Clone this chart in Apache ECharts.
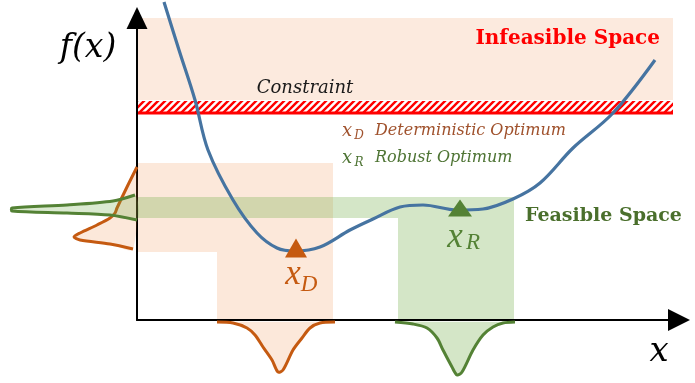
<!DOCTYPE html>
<html>
<head>
<meta charset="utf-8">
<script src="https://cdn.jsdelivr.net/npm/echarts@6/dist/echarts.min.js"></script>
<style>html,body{margin:0;padding:0;background:#fff}#chart{width:695px;height:383px}</style>
</head>
<body>
<div id="chart"></div>
<script>
// diagram units: origin at the corner of the two axes
var curveX = [27, 42, 58, 71, 96, 120, 140, 158, 183, 213, 236, 263, 286, 320, 346, 376, 403, 436, 476, 518];
var curveY = [318, 270, 220, 170, 120, 87, 72, 69, 73, 90, 101, 113, 115, 110, 111, 121, 137, 172, 207, 260];

var optimaX = [159, 323];
var optimaY = [72, 112];

// shaded regions [x0, x1, y0, y1]
var infeasibleBox = [0, 536, 220, 302];
var constraintBox = [0, 536, 207, 219];
var detBoxes = [[0, 80, 68, 157], [80, 196, 0, 157]];
var robBoxes = [[0, 261, 102, 123], [261, 377, 0, 123]];

// input / output distributions
var detXDistX = [80, 96, 110, 118, 126, 135, 141, 146, 156, 165, 173, 183, 198];
var detXDistY = [-2, -3, -8, -15, -27, -40, -52, -50, -30, -18, -8, -3, -2];
var robXDistX = [258, 276, 290, 300, 306, 315, 320, 325, 336, 346, 356, 366, 378];
var robXDistY = [-2, -4, -8, -18, -30, -47, -55, -52, -30, -15, -7, -3, -2];
var detYDistX = [0, -10, -20, -22, -27, -40, -57, -63, -57, -27, -4];
var detYDistY = [153, 133, 112, 107, 102, 95, 87, 83, 80, 76, 71];
var robYDistX = [-2, -24, -70, -125, -125, -70, -27, 0];
var robYDistY = [125, 119, 115, 112, 109, 107, 105, 100];

// text pieces
var noteText = ['f(x)', 'x', 'Constraint', 'Infeasible Space', 'x', 'D', 'Deterministic Optimum',
  'x', 'R', 'Robust Optimum', 'x', 'D', 'x', 'R', 'Feasible Space'];
var noteX = [-49, 522, 168, 523, 210, 222, 238, 210, 222, 238, 156, 172, 318, 336, 388];
var noteY = [272, -32, 232, 281, 189, 184, 189, 162, 157, 162, 45, 35, 82, 77, 104];

var serif = '"DejaVu Serif", serif';
var mathSerif = '"Liberation Serif", serif';
var orange = '#c55a11';
var green = '#548235';
var noteStyle = [
  { font: 'italic 33px ' + serif, fill: '#000', align: 'center' },
  { font: 'italic 34px ' + serif, fill: '#000', align: 'center' },
  { font: 'italic 18px ' + serif, fill: '#1a1a1a', align: 'center' },
  { font: 'bold 20px ' + serif, fill: '#ff0000', align: 'right' },
  { font: 'italic 18px ' + serif, fill: '#a0522d', align: 'center' },
  { font: 'italic 12px ' + serif, fill: '#a0522d', align: 'center' },
  { font: 'italic 16px ' + serif, fill: '#a0522d', align: 'left' },
  { font: 'italic 18px ' + serif, fill: '#4e7434', align: 'center' },
  { font: 'italic 12px ' + serif, fill: '#4e7434', align: 'center' },
  { font: 'italic 16px ' + serif, fill: '#4e7434', align: 'left' },
  { font: 'italic 35px ' + mathSerif, fill: orange, align: 'center' },
  { font: 'italic 23px ' + mathSerif, fill: orange, align: 'center' },
  { font: 'italic 35px ' + mathSerif, fill: green, align: 'center' },
  { font: 'italic 23px ' + mathSerif, fill: green, align: 'center' },
  { font: 'bold 19px ' + serif, fill: '#4a6f2c', align: 'left' }
];

var chart = echarts.init(document.getElementById('chart'));

// red diagonal hatch for the constraint band
var hatch = document.createElement('canvas');
hatch.width = 7;
hatch.height = 7;
var hc = hatch.getContext('2d');
hc.fillStyle = '#fff';
hc.fillRect(0, 0, 7, 7);
hc.strokeStyle = '#ff0000';
hc.lineWidth = 2.4;
hc.beginPath();
[0, 7, 14].forEach(function (c) {
  hc.moveTo(-1, c + 1);
  hc.lineTo(c + 1, -1);
});
hc.stroke();

function pts(api, xs, ys) {
  return xs.map(function (x, i) { return api.coord([x, ys[i]]); });
}

function boxSeries(list, fill, z) {
  return {
    type: 'custom',
    z: z,
    silent: true,
    data: list,
    encode: { x: [0, 1], y: [2, 3] },
    renderItem: function (params, api) {
      var a = api.coord([api.value(0), api.value(3)]);
      var b = api.coord([api.value(1), api.value(2)]);
      return {
        type: 'rect',
        shape: { x: a[0], y: a[1], width: b[0] - a[0], height: b[1] - a[1] },
        style: { fill: fill }
      };
    }
  };
}

function distSeries(xs, ys, stroke, fill, z) {
  return {
    type: 'custom',
    z: z,
    silent: true,
    data: [[xs[0], ys[0]]],
    renderItem: function (params, api) {
      var p = pts(api, xs, ys);
      return {
        type: 'group',
        children: [
          { type: 'polygon', shape: { points: p, smooth: 0.3 }, style: { fill: fill } },
          { type: 'polyline', shape: { points: p, smooth: 0.3 }, style: { stroke: stroke, lineWidth: 3, fill: null } }
        ]
      };
    }
  };
}

chart.setOption({
  animation: false,
  grid: { left: 137, right: 16, top: 18, bottom: 63 },
  xAxis: {
    type: 'value', min: 0, max: 542, z: 3,
    axisLine: { lineStyle: { color: '#000', width: 2 }, symbol: ['none', 'triangle'], symbolSize: [22, 22] },
    axisTick: { show: false }, axisLabel: { show: false }, splitLine: { show: false }
  },
  yAxis: {
    type: 'value', min: 0, max: 302, z: 3,
    axisLine: { show: true, lineStyle: { color: '#000', width: 2 }, symbol: ['none', 'triangle'], symbolSize: [21, 22] },
    axisTick: { show: false }, axisLabel: { show: false }, splitLine: { show: false }
  },
  series: [
    boxSeries([infeasibleBox], 'rgba(237,125,49,0.16)', 1),
    boxSeries(detBoxes, 'rgba(237,125,49,0.18)', 1),
    boxSeries(robBoxes, 'rgba(112,173,71,0.3)', 1),
    {
      type: 'custom',
      z: 2,
      silent: true,
      data: [constraintBox],
      renderItem: function (params, api) {
        var a = api.coord([api.value(0), api.value(3)]);
        var b = api.coord([api.value(1), api.value(2)]);
        return {
          type: 'group',
          children: [
            { type: 'rect', shape: { x: a[0], y: a[1], width: b[0] - a[0], height: b[1] - a[1] },
              style: { fill: { image: hatch, repeat: 'repeat' } } },
            { type: 'line', shape: { x1: a[0], y1: b[1], x2: b[0], y2: b[1] },
              style: { stroke: '#ff0000', lineWidth: 3 } }
          ]
        };
      }
    },
    distSeries(detXDistX, detXDistY, orange, 'rgba(237,125,49,0.18)', 4),
    distSeries(robXDistX, robXDistY, green, 'rgba(112,173,71,0.3)', 4),
    distSeries(detYDistX, detYDistY, orange, 'rgba(237,125,49,0.18)', 4),
    distSeries(robYDistX, robYDistY, green, 'rgba(112,173,71,0.25)', 4),
    {
      type: 'line',
      z: 5,
      clip: false,
      silent: true,
      smooth: 0.35,
      symbol: 'none',
      lineStyle: { color: '#4674a1', width: 3.2 },
      data: curveX.map(function (x, i) { return [x, curveY[i]]; })
    },
    {
      type: 'scatter',
      z: 6,
      silent: true,
      symbol: 'triangle',
      symbolSize: [22, 19],
      itemStyle: { color: orange, opacity: 1 },
      data: [[optimaX[0], optimaY[0]]]
    },
    {
      type: 'scatter',
      z: 6,
      silent: true,
      symbol: 'triangle',
      symbolSize: [24, 17],
      itemStyle: { color: green, opacity: 1 },
      data: [[optimaX[1], optimaY[1]]]
    },
    {
      type: 'custom',
      z: 7,
      silent: true,
      data: [[0, 0]],
      renderItem: function (params, api) {
        return {
          type: 'group',
          children: noteText.map(function (t, i) {
            var p = api.coord([noteX[i], noteY[i]]);
            var s = noteStyle[i];
            return {
              type: 'text',
              x: p[0], y: p[1],
              style: { text: t, font: s.font, fill: s.fill, align: s.align, verticalAlign: 'middle' }
            };
          })
        };
      }
    }
  ]
});
</script>
</body>
</html>
